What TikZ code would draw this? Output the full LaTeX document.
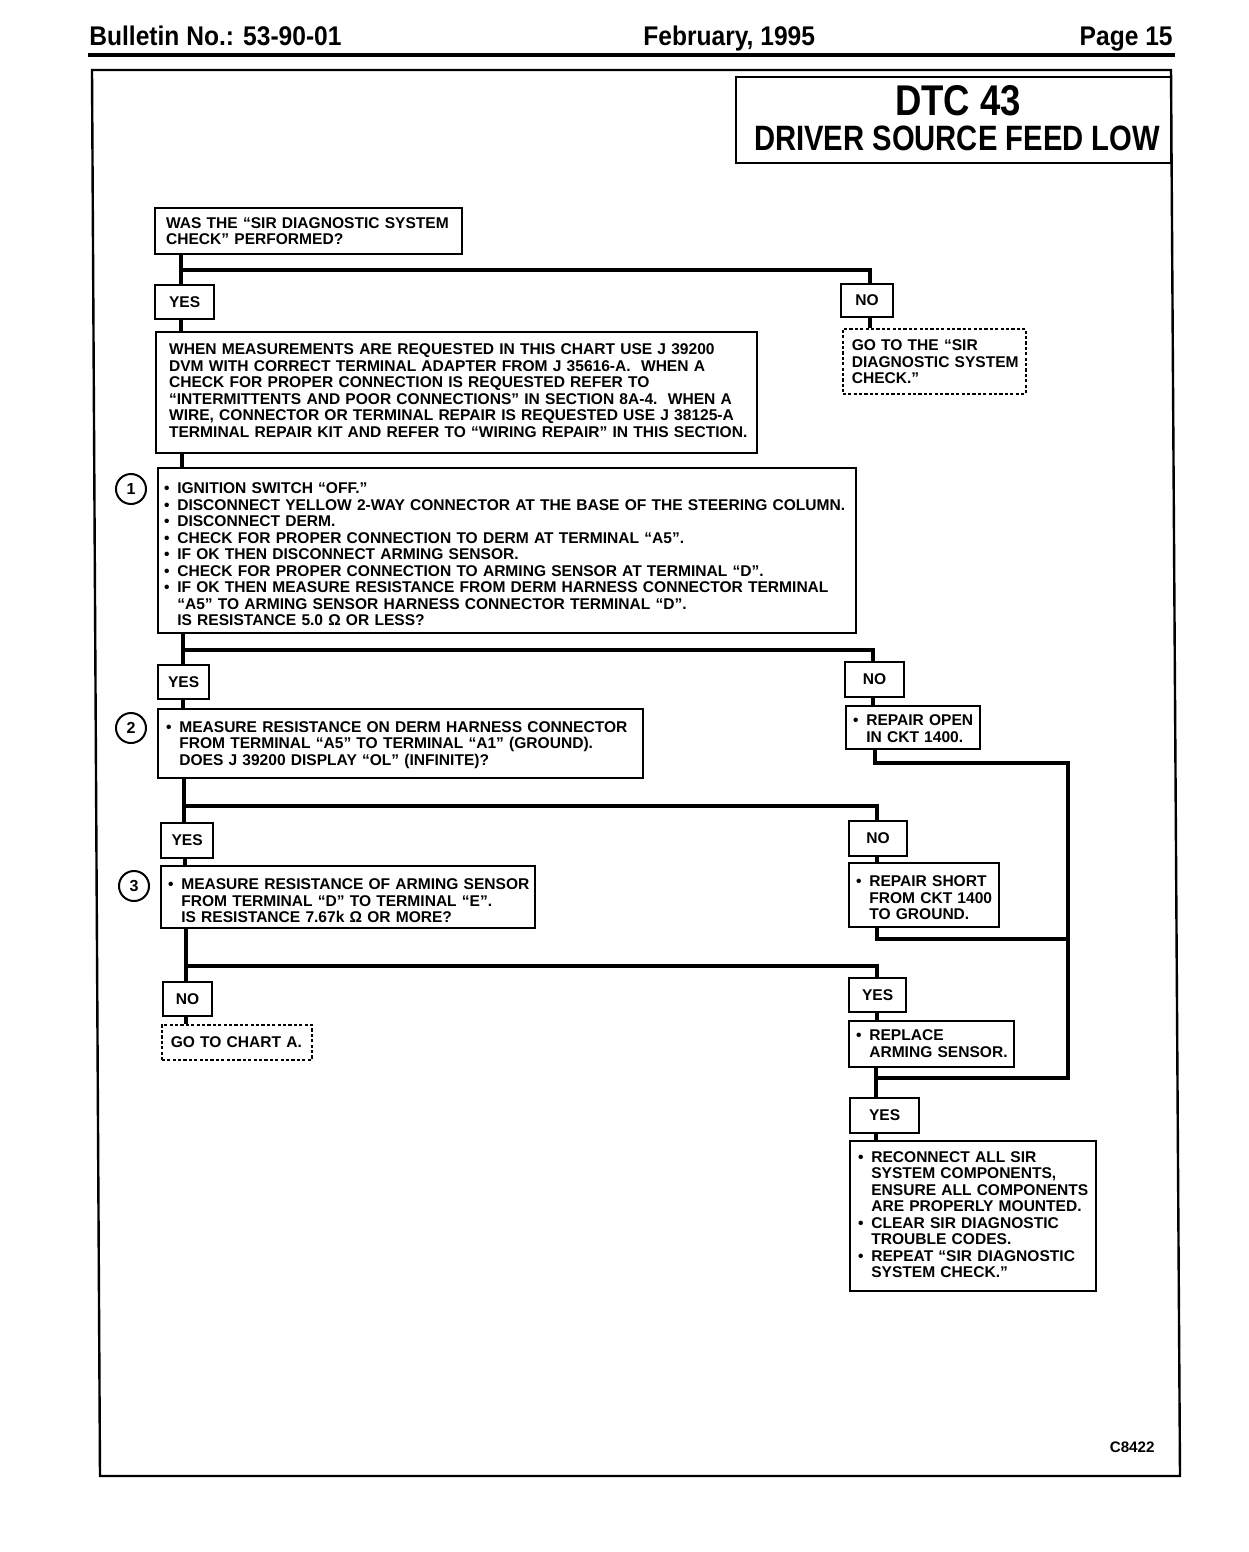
\documentclass[tikz,border=0pt]{standalone}
\usepackage{fontspec}
\setmainfont{Liberation Sans}
\usepackage{graphicx}
\newcommand\tabl[2][1pt]{\raisebox{-#1}[\height][\depth]{\begin{tabular}{@{}l@{}}#2\end{tabular}}}
\newcommand\bul{\makebox[6.6pt][l]{•}}
\newcommand\hind{\hspace*{6.6pt}}
\tikzset{
  conn/.style={line width=2.2pt},
  bx/.style={draw, line width=1.1pt, anchor=north west, inner ysep=0pt, align=left,
    font=\fontsize{7.78}{8.25}\selectfont\bfseries},
  dbx/.style={bx, line width=0.8pt, dash pattern=on 1.6pt off 1.1pt},
  lab/.style={draw, line width=1.1pt, anchor=north west, inner sep=0pt,
    font=\fontsize{7.78}{8.25}\selectfont\bfseries},
  num/.style={draw, circle, line width=1pt, minimum size=15pt, inner sep=0pt,
    font=\fontsize{8}{8}\selectfont\bfseries},
  hdr/.style={inner sep=0pt, font=\fontsize{13.5}{13.5}\selectfont\bfseries},
}
\begin{document}
\begin{tikzpicture}[x=0.5pt,y=-0.5pt]
\fill[white] (0,0) rectangle (1248,1552);
\useasboundingbox (0,0) rectangle (1248,1552);

% header
\node[hdr, anchor=base west] (hl) at (89,46) {\scalebox{0.91}[1]{Bulletin No.: 53-90-01}};
\node[hdr, anchor=base west] (hc) at (643,46) {\scalebox{0.91}[1]{February, 1995}};
\node[hdr, anchor=base east] (hr) at (1173,46) {\scalebox{0.91}[1]{Page 15}};
\draw[line width=2pt] (88,55) -- (1175,55);

% frame
\draw[line width=1.2pt] (92,70) -- (1171,70) -- (1180,1476) -- (100,1476) -- cycle;

% title
\node[draw, line width=1.1pt, anchor=north west, minimum width=217.5pt, minimum height=43pt, inner sep=0pt] (title) at (735,76) {};
\node[inner sep=0pt, anchor=base, font=\fontsize{21.5}{21.5}\selectfont\bfseries] (dtc) at (958,116) {\scalebox{0.85}[1]{DTC 43}};
\node[inner sep=0pt, anchor=base, font=\fontsize{17.6}{17.6}\selectfont\bfseries] (dsf) at (957,150) {\scalebox{0.83}[1]{DRIVER SOURCE FEED LOW}};

% boxes
\node[bx, inner xsep=5.5pt, text width=142.5pt, minimum height=23pt] (q0) at (154,207)
  {\tabl{WAS THE “SIR DIAGNOSTIC SYSTEM\\CHECK” PERFORMED?}};
\node[lab, minimum width=29.5pt, minimum height=17pt] (yes1) at (154,284) {YES};
\node[lab, minimum width=26pt, minimum height=16.5pt] (no1) at (840,283) {NO};
\node[dbx, inner xsep=4.5pt, text width=82.5pt, minimum height=32.5pt] (goto1) at (842,328)
  {\tabl[1.3pt]{GO TO THE “SIR\\DIAGNOSTIC SYSTEM\\CHECK.”}};
\node[bx, inner xsep=6.5pt, text width=287.5pt, minimum height=60.5pt] (info) at (155,331)
  {\tabl[0pt]{WHEN MEASUREMENTS ARE REQUESTED IN THIS CHART USE J 39200\\
  DVM WITH CORRECT TERMINAL ADAPTER FROM J 35616-A.\ \ WHEN A\\
  CHECK FOR PROPER CONNECTION IS REQUESTED REFER TO\\
  “INTERMITTENTS AND POOR CONNECTIONS” IN SECTION 8A-4.\ \ WHEN A\\
  WIRE, CONNECTOR OR TERMINAL REPAIR IS REQUESTED USE J 38125-A\\
  TERMINAL REPAIR KIT AND REFER TO “WIRING REPAIR” IN THIS SECTION.}};

\node[bx, inner xsep=3pt, text width=343pt, minimum height=82.5pt] (box1) at (157,467)
  {\tabl[3pt]{\bul IGNITION SWITCH “OFF.”\\
  \bul DISCONNECT YELLOW 2-WAY CONNECTOR AT THE BASE OF THE STEERING COLUMN.\\
  \bul DISCONNECT DERM.\\
  \bul CHECK FOR PROPER CONNECTION TO DERM AT TERMINAL “A5”.\\
  \bul IF OK THEN DISCONNECT ARMING SENSOR.\\
  \bul CHECK FOR PROPER CONNECTION TO ARMING SENSOR AT TERMINAL “D”.\\
  \bul IF OK THEN MEASURE RESISTANCE FROM DERM HARNESS CONNECTOR TERMINAL\\
  \hind “A5” TO ARMING SENSOR HARNESS CONNECTOR TERMINAL “D”.\\
  \hind IS RESISTANCE 5.0 Ω OR LESS?}};
\node[num] (c1) at (131,489) {1};

\node[lab, minimum width=25.5pt, minimum height=17pt] (yes2) at (157,664) {YES};
\node[lab, minimum width=29.5pt, minimum height=17.5pt] (no2) at (844,661) {NO};
\node[bx, inner xsep=3.5pt, text width=60pt, minimum height=21.5pt] (repopen) at (845,705)
  {\tabl[1.5pt]{\bul REPAIR OPEN\\\hind IN CKT 1400.}};
\node[bx, inner xsep=4pt, text width=234.5pt, minimum height=34.5pt] (box2) at (157,708)
  {\tabl[0.8pt]{\bul MEASURE RESISTANCE ON DERM HARNESS CONNECTOR\\
  \hind FROM TERMINAL “A5” TO TERMINAL “A1” (GROUND).\\
  \hind DOES J 39200 DISPLAY “OL” (INFINITE)?}};
\node[num] (c2) at (131,728) {2};

\node[lab, minimum width=26pt, minimum height=17.5pt] (yes3) at (160,822) {YES};
\node[lab, minimum width=29pt, minimum height=17.5pt] (no3) at (848,820) {NO};
\node[bx, inner xsep=3.5pt, text width=68pt, minimum height=32pt] (repshort) at (848,862)
  {\tabl[2.5pt]{\bul REPAIR SHORT\\\hind FROM CKT 1400\\\hind TO GROUND.}};
\node[bx, inner xsep=3.5pt, text width=180pt, minimum height=31pt] (box3) at (160,865)
  {\tabl[3pt]{\bul MEASURE RESISTANCE OF ARMING SENSOR\\
  \hind FROM TERMINAL “D” TO TERMINAL “E”.\\
  \hind IS RESISTANCE 7.67k Ω OR MORE?}};
\node[num] (c3) at (134,886) {3};

\node[lab, minimum width=24.5pt, minimum height=17pt] (no4) at (162,981) {NO};
\node[dbx, inner xsep=4.5pt, text width=66pt, minimum height=17.5pt] (goa) at (161,1024)
  {\tabl{GO TO CHART A.}};
\node[lab, minimum width=28.5pt, minimum height=17pt] (yes4) at (848,977) {YES};
\node[bx, inner xsep=3.5pt, text width=75.5pt, minimum height=23pt] (replace) at (848,1020)
  {\tabl[0.7pt]{\bul REPLACE\\\hind ARMING SENSOR.}};
\node[lab, minimum width=34.5pt, minimum height=17.5pt] (yes5) at (849,1097) {YES};
\node[bx, inner xsep=4pt, text width=115pt, minimum height=75pt] (final) at (849,1140)
  {\tabl[0.3pt]{\bul RECONNECT ALL SIR\\
  \hind SYSTEM COMPONENTS,\\
  \hind ENSURE ALL COMPONENTS\\
  \hind ARE PROPERLY MOUNTED.\\
  \bul CLEAR SIR DIAGNOSTIC\\
  \hind TROUBLE CODES.\\
  \bul REPEAT “SIR DIAGNOSTIC\\
  \hind SYSTEM CHECK.”}};

\node[inner sep=0pt, anchor=base east, font=\fontsize{7.6}{7.6}\selectfont\bfseries] (code) at (1155,1452) {C8422};

% connector guide coordinates
\coordinate (xa) at (181,0);
\coordinate (xb) at (182,0);
\coordinate (xc) at (183,0);
\coordinate (xd) at (184,0);
\coordinate (xe) at (185,0);
\coordinate (xg) at (186,0);
\coordinate (xn1) at (870,0);
\coordinate (xn2) at (873,0);
\coordinate (xo) at (875,0);
\coordinate (xn3) at (877,0);
\coordinate (xf) at (876,0);
\coordinate (xl) at (1068,0);
\coordinate (y1) at (0,270);
\coordinate (y2) at (0,650);
\coordinate (y3) at (0,806);
\coordinate (y4) at (0,966);
\coordinate (yl1) at (0,763);
\coordinate (yl2) at (0,939);
\coordinate (yl3) at (0,1078);

% connectors
\draw[conn] (q0.south -| xa) -- (yes1.north -| xa);
\draw[conn] (xa |- y1) -| (no1.north -| xn1);
\draw[conn] (yes1.south -| xa) -- (info.north -| xa);
\draw[conn] (no1.south -| xn1) -- (goto1.north -| xn1);
\draw[conn] (info.south -| xb) -- (box1.north -| xb);
\draw[conn] (box1.south -| xc) -- (yes2.north -| xc);
\draw[conn] (xc |- y2) -| (no2.north -| xn2);
\draw[conn] (yes2.south -| xc) -- (box2.north -| xc);
\draw[conn] (no2.south -| xn2) -- (repopen.north -| xn2);
\draw[conn] (repopen.south -| xo) |- (xl |- yl1) -- (xl |- yl3) -- (xf |- yl3);
\draw[conn] (box2.south -| xd) -- (yes3.north -| xd);
\draw[conn] (xd |- y3) -| (no3.north -| xn3);
\draw[conn] (yes3.south -| xe) -- (box3.north -| xe);
\draw[conn] (no3.south -| xn3) -- (repshort.north -| xn3);
\draw[conn] (repshort.south -| xn3) |- (xl |- yl2);
\draw[conn] (box3.south -| xg) -- (no4.north -| xg);
\draw[conn] (xg |- y4) -| (yes4.north -| xn3);
\draw[conn] (no4.south -| xg) -- (goa.north -| xg);
\draw[conn] (yes4.south -| xn3) -- (replace.north -| xn3);
\draw[conn] (replace.south -| xf) -- (yes5.north -| xf);
\draw[conn] (yes5.south -| xf) -- (final.north -| xf);
\end{tikzpicture}
\end{document}
